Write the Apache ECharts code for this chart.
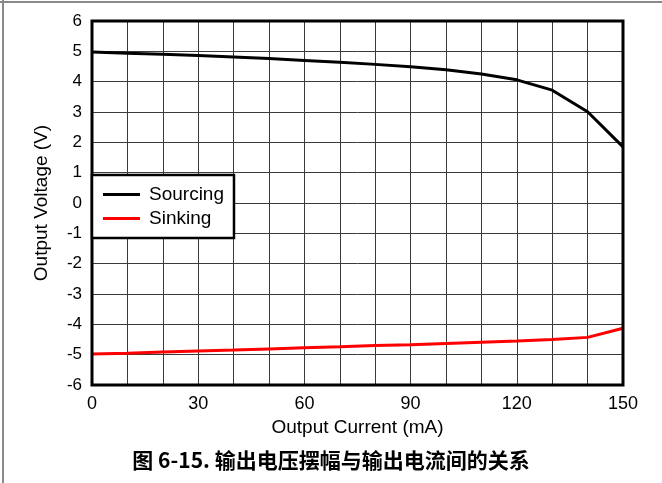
<!DOCTYPE html>
<html><head><meta charset="utf-8">
<script src="https://cdn.jsdelivr.net/npm/echarts@6/dist/echarts.min.js"></script>
<style>html,body{margin:0;padding:0;background:#fff}#c{width:662px;height:483px}</style>
</head><body><div id="c"></div>
<script>
const currents = [0,10,20,30,40,50,60,70,80,90,100,110,120,130,140,150];
const sourcing = [4.98,4.94,4.90,4.86,4.81,4.76,4.70,4.64,4.57,4.49,4.39,4.25,4.06,3.72,3.01,1.85];
const sinking = [-4.98,-4.95,-4.91,-4.88,-4.85,-4.81,-4.77,-4.74,-4.70,-4.67,-4.63,-4.59,-4.55,-4.50,-4.43,-4.13];
const xTickLabels = ['0','30','60','90','120','150'];
const seriesNames = ['Sourcing','Sinking'];
const caption = '图 6-15. 输出电压摆幅与输出电流间的关系';

const chart = echarts.init(document.getElementById('c'), null, {renderer:'canvas'});
const font = 'Liberation Sans, Arial, sans-serif';
chart.setOption({
  animation:false,
  backgroundColor:'#fff',
  grid:{left:92,right:39,top:21,bottom:98,show:true,borderColor:'#000',borderWidth:3,backgroundColor:'transparent',z:3},
  xAxis:{type:'value',min:0,max:150,interval:10,
    name:'Output Current (mA)',nameLocation:'middle',nameGap:32,
    nameTextStyle:{fontFamily:font,fontSize:19,color:'#000'},
    axisLine:{show:false},axisTick:{show:false},
    axisLabel:{margin:10,fontFamily:font,fontSize:18,color:'#000',
      formatter:v=>xTickLabels.includes(String(v))?String(v):''},
    splitLine:{show:true,lineStyle:{color:'#3a3a3a',width:1}}},
  yAxis:{type:'value',min:-6,max:6,interval:1,
    name:'Output Voltage (V)',nameLocation:'middle',nameGap:41,
    nameTextStyle:{fontFamily:font,fontSize:19,color:'#000'},
    axisLine:{show:false},axisTick:{show:false},
    axisLabel:{margin:10,fontFamily:font,fontSize:17,color:'#000'},
    splitLine:{show:true,lineStyle:{color:'#3a3a3a',width:1}}},
  legend:{orient:'vertical',left:92,top:175,itemWidth:37,itemHeight:3,itemGap:5,
    padding:[10,10,10,11],borderColor:'#000',borderWidth:2.5,backgroundColor:'#fff',
    icon:'rect',data:seriesNames,
    textStyle:{fontFamily:font,fontSize:19,color:'#000',padding:[0,0,0,4]}},
  series:[
    {name:seriesNames[0],type:'line',data:currents.map((c,i)=>[c,sourcing[i]]),
      showSymbol:false,symbol:'none',lineStyle:{color:'#000',width:3},itemStyle:{color:'#000'},z:2},
    {name:seriesNames[1],type:'line',data:currents.map((c,i)=>[c,sinking[i]]),
      showSymbol:false,symbol:'none',lineStyle:{color:'#ff0000',width:3},itemStyle:{color:'#ff0000'},z:2}
  ],
  graphic:[
    {type:'line',shape:{x1:0,y1:2,x2:662,y2:2},style:{stroke:'#8a8a8a',lineWidth:2}},
    {type:'line',shape:{x1:3,y1:0,x2:3,y2:483},style:{stroke:'#8a8a8a',lineWidth:2}},
    {type:'text',left:'center',top:450,style:{text:caption,fontFamily:'Noto Sans CJK SC',fontWeight:'bold',fontSize:21,fill:'#000'}}
  ]
});
</script></body></html>
